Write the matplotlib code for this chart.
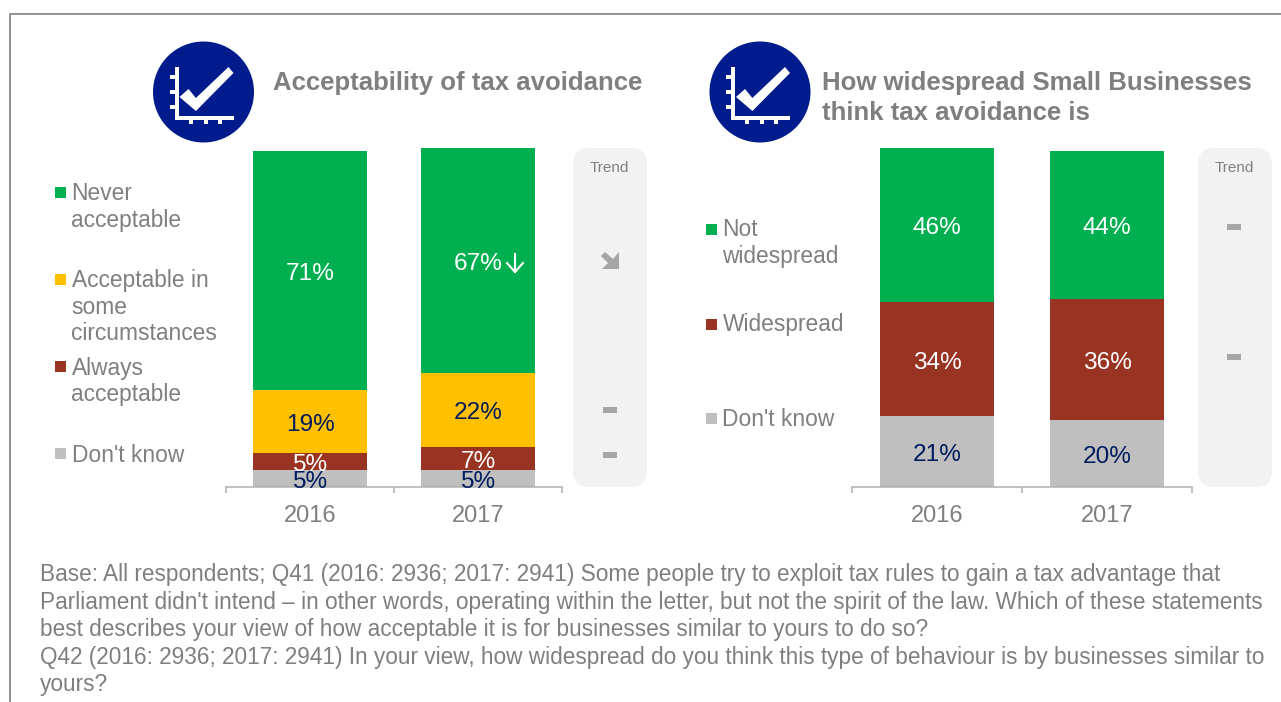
# Import Libraries
import matplotlib
matplotlib.use('Agg')
import matplotlib.pyplot as plt
from matplotlib.patches import Circle, FancyBboxPatch, Polygon, Rectangle

plt.rcParams['font.family'] = ['Liberation Sans', 'DejaVu Sans']

# Data
years = ['2016', '2017']
accept_dont_know = [5, 5]
accept_always = [5, 7]
accept_some = [19, 22]
accept_never = [71, 67]
spread_dont_know = [21, 20]
spread_yes = [34, 36]
spread_no = [46, 44]

footer_lines = [
    "Base: All respondents; Q41 (2016: 2936; 2017: 2941) Some people try to exploit tax rules to gain a tax advantage that",
    "Parliament didn't intend \u2013 in other words, operating within the letter, but not the spirit of the law. Which of these statements",
    "best describes your view of how acceptable it is for businesses similar to yours to do so?",
    "Q42 (2016: 2936; 2017: 2941) In your view, how widespread do you think this type of behaviour is by businesses similar to",
    "yours?",
]

# Colours
GREEN = '#00B050'
YELLOW = '#FFC000'
RED = '#993322'
GREY = '#BFBFBF'
NAVY = '#001A5E'
TEXT = '#7F7F7F'
BLUE = '#001C8C'

W, H = 1281, 702
fig = plt.figure(figsize=(W / 100, H / 100), dpi=100)

# Full figure axes in pixels, for everything that isn't a chart
bg = fig.add_axes([0, 0, 1, 1])
bg.set_xlim(0, W)
bg.set_ylim(H, 0)
bg.axis('off')
bg.set_zorder(5)


def chart_axes(x0, x1):
    # 100% is 336 pixels tall, baseline at y=487
    ax = fig.add_axes([x0 / W, (H - 487) / H, (x1 - x0) / W, 336 / H])
    ax.set_xlim(-0.5, 1.5)
    ax.set_ylim(0, 100)
    ax.patch.set_alpha(0)
    for s in ['top', 'left', 'right']:
        ax.spines[s].set_visible(False)
    ax.spines['bottom'].set_color('#B0B0B0')
    ax.spines['bottom'].set_linewidth(1.1)
    ax.set_yticks([])
    ax.set_xticks([-0.5, 0.5, 1.5])
    ax.set_xticklabels([])
    ax.tick_params(axis='x', length=4.5, width=1.1, color='#B0B0B0')
    for i, y in enumerate(years):
        ax.text(i, -8.0, y, ha='center', va='center_baseline', fontsize=17, color=TEXT)
    return ax


def stack(ax, series, width):
    bottom = [0, 0]
    for values, colour, label_colour in series:
        ax.bar(range(2), values, width, bottom=bottom, color=colour, clip_on=False, zorder=2)
        for i, v in enumerate(values):
            ax.text(i, bottom[i] + v / 2 - 0.3, f'{v}%', ha='center', va='center_baseline',
                    fontsize=17.6, color=label_colour, zorder=5)
        bottom = [b + v for b, v in zip(bottom, values)]


def icon(cx, cy):
    bg.add_patch(Circle((cx, cy), 50.5, color=BLUE, lw=0))
    bg.add_patch(Rectangle((cx - 29, cy - 25), 4, 52, color='white', lw=0))
    bg.add_patch(Rectangle((cx - 29, cy + 24), 59, 3.5, color='white', lw=0))
    for dy in [-15, 0, 15]:
        bg.add_patch(Rectangle((cx - 34, cy + dy - 2), 5, 4, color='white', lw=0))
    for dx in [-13, 2, 16]:
        bg.add_patch(Rectangle((cx + dx - 2, cy + 27), 4, 4.5, color='white', lw=0))
    tick = [(-24, 5), (-15, -3), (-7.6, 6), (25, -25), (30, -19), (-7.6, 19)]
    bg.add_patch(Polygon([(cx + x, cy + y) for x, y in tick], color='white', lw=0))


def trend_panel(x0, x1):
    bg.add_patch(FancyBboxPatch((x0 + 16, 164), x1 - x0 - 32, 307,
                                boxstyle='round,pad=16,rounding_size=16',
                                fc='#F2F2F2', ec='none'))
    bg.text((x0 + x1) / 2 - 1, 168, 'Trend', ha='center', va='center', fontsize=11, color=TEXT)


def dash(x, y):
    bg.add_patch(Rectangle((x - 7, y - 3), 14, 6, color='#A6A6A6', lw=0))


def legend_item(x, y, colour, lines, text_dy=2):
    bg.add_patch(Rectangle((x, y - 5.5), 11, 11, color=colour, lw=0))
    for i, line in enumerate(lines):
        bg.text(x + 16.5, y + text_dy + i * 26, line, ha='left', va='center', fontsize=16.4, color=TEXT)


# Frame
bg.plot([10, 10, W], [H, 14, 14], color='#7F7F7F', lw=1.2)

# Headings
icon(203.5, 92)
icon(760, 92)
for x, y, line in [(273, 83, 'Acceptability of tax avoidance'),
                   (822, 83, 'How widespread Small Businesses'),
                   (822, 113, 'think tax avoidance is')]:
    bg.text(x, y, line, fontsize=18.55, fontweight='bold', color=TEXT, va='center', ha='left')

# Trend panels
trend_panel(573, 647)
trend_panel(1198, 1272)
bg.add_patch(Polygon([(605, 252), (601, 256), (608, 263), (602, 269), (619, 269), (619, 252),
                      (613, 259)], color='#A6A6A6', lw=0))
dash(610, 410)
dash(610, 455)
dash(1234, 227)
dash(1234, 357)

# Left chart
left = chart_axes(226, 562)
stack(left, [(accept_dont_know, GREY, NAVY), (accept_always, RED, 'white'),
             (accept_some, YELLOW, NAVY), (accept_never, GREEN, 'white')], 0.675)

# Significance arrow next to 67%
bg.plot([515, 515], [254, 272], color='white', lw=1.5)
bg.plot([507, 515, 523], [263, 272, 263], color='white', lw=1.5)

# Right chart
right = chart_axes(852, 1192)
stack(right, [(spread_dont_know, GREY, NAVY), (spread_yes, RED, 'white'),
              (spread_no, GREEN, 'white')], 0.67)

# Legends
legend_item(55, 192, GREEN, ['Never', 'acceptable'])
legend_item(55, 279, YELLOW, ['Acceptable in', 'some', 'circumstances'])
legend_item(55, 366, RED, ['Always', 'acceptable'])
legend_item(55, 453, GREY, ["Don't know"])
legend_item(706, 229, GREEN, ['Not', 'widespread'], 1)
legend_item(706, 324, RED, ['Widespread'], 1)
legend_item(706, 418, GREY, ["Don't know"], 1)

# Footer
for i, line in enumerate(footer_lines):
    bg.text(40, 575 + i * 27.4, line, fontsize=16.25, color=TEXT, ha='left', va='center')

fig.savefig('out.png', dpi=100)
